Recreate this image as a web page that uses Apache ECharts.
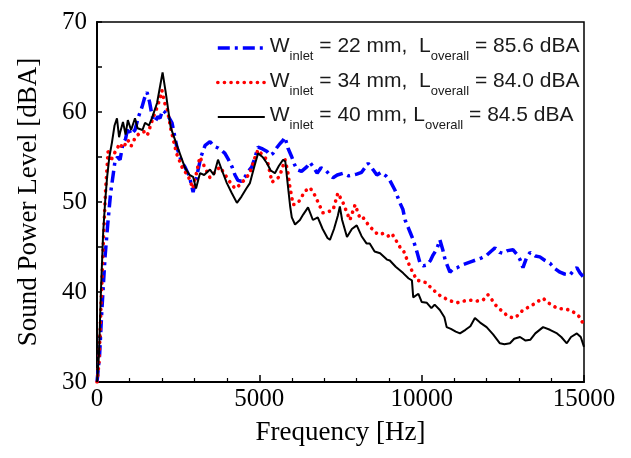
<!DOCTYPE html>
<html>
<head>
<meta charset="utf-8">
<script src="https://cdn.jsdelivr.net/npm/echarts@6/dist/echarts.min.js"></script>
<style>
html,body{margin:0;padding:0;background:#fff;}
#chart{width:631px;height:458px;}
</style>
</head>
<body>
<div id="chart"></div>
<script>
// ---- Data ----
const seriesNames = [
  'W{sub|inlet} = 22 mm,  L{sub|overall} = 85.6 dBA',
  'W{sub|inlet} = 34 mm,  L{sub|overall} = 84.0 dBA',
  'W{sub|inlet} = 40 mm, L{sub|overall} = 84.5 dBA'
];

const freq22 = [0,80,150,250,330,420,550,630,710,800,880,950,1050,1170,1280,1390,1460,1540,1620,1700,1790,1870,1940,2020,2090,2200,2310,2460,2600,2710,2850,2960,3050,3200,3330,3480,3600,3730,3850,3940,4050,4160,4250,4340,4450,4560,4660,4770,4870,4960,5100,5240,5330,5420,5530,5640,5720,5790,5880,6000,6080,6160,6300,6460,6560,6680,6780,6900,7050,7150,7270,7400,7580,7750,7890,8000,8150,8350,8500,8620,8750,8900,9020,9180,9330,9420,9490,9580,9660,9740,9860,9950,10050,10160,10270,10350,10470,10560,10650,10720,10870,10980,11090,11250,11400,11550,11700,11850,12010,12130,12260,12400,12510,12650,12810,12950,13030,13120,13230,13340,13500,13640,13800,13950,14100,14260,14400,14570,14680,14780,14880,15000];
const spl22 = [30,33,38,44,47.5,51,54.4,55,54.7,56.5,57,58.3,57.5,58,59.5,60.6,61.5,62.2,61.1,59.5,58.9,59.5,59.3,60.2,60,59.5,58.8,56.1,54.5,53.9,52.8,51.1,52.5,55,56.3,56.7,56.2,56,55.7,55.4,54.7,53.9,53,52.4,52.3,52.8,53.4,53.9,55,56.1,55.9,55.6,55.2,55.4,56,56.5,56.8,57.2,56,55,54.2,53.6,53.4,53.9,54.4,53.8,53.2,53.8,53.5,53.1,52.7,53,53.2,52.9,53,53.1,53.3,54.3,53.6,53,53.3,52.9,52.4,51.3,49.9,49.2,48,47.2,46.5,45.8,44.4,43.2,42.9,43,43.5,44.1,44.8,45.8,44.7,43.6,42.2,42.6,42.7,43,43.2,43.4,43.6,43.8,44.1,44.5,44.9,44.4,44.3,44.6,44.7,44.1,43.6,42.7,43.8,44.4,44,43.9,43.5,43.2,42.6,42.2,42,41.9,42.4,42.7,42.1,41.6];

const freq34 = [0,60,120,200,260,340,420,500,600,700,800,950,1050,1170,1320,1450,1550,1650,1730,1850,1950,2000,2080,2150,2280,2450,2650,2800,2950,3050,3170,3300,3480,3650,3790,3950,4100,4250,4400,4550,4710,4850,4960,5100,5240,5390,5500,5620,5790,5870,5940,6040,6150,6250,6400,6560,6700,6780,6960,7100,7270,7420,7580,7700,7790,7950,8100,8190,8350,8500,8650,8810,8960,9080,9200,9330,9450,9550,9640,9750,9860,10000,10160,10300,10470,10600,10720,10900,11090,11300,11490,11700,11890,12040,12150,12310,12500,12630,12810,12930,13120,13340,13430,13600,13740,13900,14170,14400,14570,14750,14870,15000];
const spl34 = [30,32,38,46,51,55.6,54.5,55.2,55.8,56.5,56,56.9,56.2,57.1,57.7,57.8,57.4,58.5,59.4,60.5,61.6,62.4,61,60.6,58,55.4,53.6,53,51.5,53,55,54,52.7,53.4,53.9,53,52.2,51.5,51.9,52.5,53.2,54.8,55.8,55.2,54.7,52.2,52.5,52.8,54.7,53.5,51.7,49.7,49.8,50.2,51.2,51.6,50.8,50.2,48.8,48.9,49.1,51,49.9,48.8,48,49.7,48.2,48.3,47.5,46.9,46.4,46.5,46.2,46.5,45.8,45,44.5,43.6,42.8,42,41.3,41.2,41,40.4,39.9,39.5,39.3,39,38.8,39,39.1,39,39.1,39.7,39.2,38.4,37.8,37.4,37.1,37.3,38,38.4,38.6,39,39.3,38.8,38.2,38.1,38,37.6,37.2,36.3];

const freq40 = [0,60,120,190,250,310,380,460,540,615,680,710,800,880,950,1050,1170,1250,1400,1480,1600,1700,1850,1950,2020,2120,2270,2480,2700,2850,2960,3050,3172,3300,3480,3600,3727,3850,4000,4150,4310,4450,4600,4710,4850,4960,5100,5235,5350,5480,5600,5730,5800,5850,5950,6000,6100,6250,6350,6500,6650,6800,6950,7100,7175,7300,7420,7480,7550,7700,7850,8000,8150,8300,8400,8550,8720,8930,9020,9200,9430,9600,9700,9740,9900,10000,10160,10300,10400,10560,10700,10770,10900,11050,11180,11350,11500,11640,11800,12000,12200,12410,12550,12720,12850,13030,13200,13350,13500,13740,13950,14170,14300,14470,14600,14780,14900,15000];
const spl40 = [30,33,40,46.6,50,52.7,55,56.6,58.5,59.3,57.2,57.7,58.9,57.5,59.1,58,59.3,58.2,58,58.8,58.5,59.4,61,63,64.4,62.1,58.3,56.1,53.9,53,52.8,51.5,53.2,53,53.6,53,54.7,53.5,52.1,51,49.9,50.6,51.5,52.1,54,55.4,55,54.3,53.5,53.2,54,54.7,54.5,52.8,49.5,48.3,47.5,48,48.6,49.4,48,48.3,47,46,45.8,47,48.5,49.5,48,46.1,47,47.4,46.2,45.4,45.4,44.5,44.3,43.6,43.5,42.8,42.1,41.5,41.3,39.4,39.8,38.9,38.8,38.2,38.6,38,37.2,36.1,35.9,35.6,35.4,35.8,36.2,37.1,36.6,36.1,35.3,34.3,34.2,34.3,34.8,35,34.6,34.7,35.4,36.1,35.8,35.4,35,34.3,35,35.4,35,33.9];

const xTicks = {min: 0, max: 15000, interval: 5000};
const yTicks = {min: 30, max: 70, interval: 10};

function pairs(xs, ys){ return xs.map((x,i)=>[x, ys[i]]); }

const chart = echarts.init(document.getElementById('chart'), null, {renderer:'canvas'});
const serif = 'Liberation Serif';
const sans = 'Liberation Sans';

const styles = [
  {color: '#0000ff', width: 3.5, type: [12,5,3,5]},
  {color: '#ff0000', width: 3.6, type: [0.1,6.5], cap: 'round'},
  {color: '#000000', width: 2, type: 'solid'}
];

chart.setOption({
  animation: false,
  backgroundColor: '#fff',
  grid: {left: 97, right: 47, top: 22, bottom: 76, show: true, borderColor: '#000', borderWidth: 1.5, backgroundColor: 'transparent'},
  legend: {
    orient: 'vertical',
    left: 216,
    top: 33,
    padding: 0,
    itemWidth: 47,
    itemHeight: 14,
    itemGap: 4.5,
    data: seriesNames.map((n,i)=>({name: n, itemStyle: {opacity: 0}, lineStyle: Object.assign({}, styles[i])})),
    itemStyle: {opacity: 0},
    formatter: function(n){ return n.replace(/([^{}|]+)(?=\{|$)/g, function(m){ return '{m|' + m + '}'; }); },
    textStyle: {
      rich: {
        m: {fontFamily: sans, fontSize: 21, color: '#1a1a1a', lineHeight: 24, verticalAlign: 'top'},
        sub: {fontFamily: sans, fontSize: 13, color: '#1a1a1a', lineHeight: 12, padding: [17,0,0,0]}
      }
    }
  },
  xAxis: {
    type: 'value',
    min: xTicks.min, max: xTicks.max, interval: xTicks.interval,
    name: 'Frequency [Hz]', nameLocation: 'middle', nameGap: 37,
    nameTextStyle: {fontFamily: serif, fontSize: 27, color: '#000'},
    axisLine: {show: true, lineStyle: {color: '#000', width: 2}},
    axisTick: {show: true, inside: true, length: 7, lineStyle: {color: '#000', width: 1.5}},
    minorTick: {show: true, splitNumber: 5, length: 4, lineStyle: {color: '#000', width: 1.2}},
    axisLabel: {fontFamily: serif, fontSize: 25, color: '#000', margin: 5, formatter: function(v){ return String(v); }},
    splitLine: {show: false}
  },
  yAxis: {
    type: 'value',
    min: yTicks.min, max: yTicks.max, interval: yTicks.interval,
    name: 'Sound Power Level [dBA]', nameLocation: 'middle', nameGap: 55,
    nameTextStyle: {fontFamily: serif, fontSize: 27, color: '#000'},
    axisLine: {show: true, lineStyle: {color: '#000', width: 2}},
    axisTick: {show: true, inside: true, length: 5, lineStyle: {color: '#000', width: 1.5}},
    minorTick: {show: true, splitNumber: 2, length: 5, lineStyle: {color: '#000', width: 1.5}},
    axisLabel: {fontFamily: serif, fontSize: 25, color: '#000', margin: 10, formatter: function(v){ return String(v); }},
    splitLine: {show: false}
  },
  series: [
    {
      name: seriesNames[0], type: 'line', symbol: 'none',
      data: pairs(freq22, spl22),
      lineStyle: styles[0],
      itemStyle: {color: styles[0].color}, z: 2
    },
    {
      name: seriesNames[1], type: 'line', symbol: 'none',
      data: pairs(freq34, spl34),
      lineStyle: styles[1],
      itemStyle: {color: styles[1].color}, z: 3
    },
    {
      name: seriesNames[2], type: 'line', symbol: 'none',
      data: pairs(freq40, spl40),
      lineStyle: styles[2],
      itemStyle: {color: styles[2].color}, z: 4
    }
  ]
});
</script>
</body>
</html>
